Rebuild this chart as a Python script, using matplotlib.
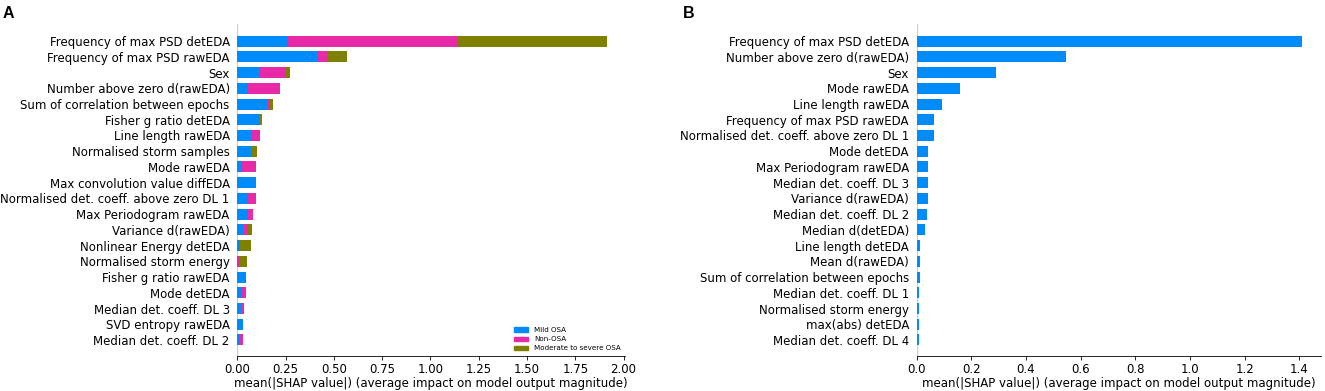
import numpy as np
import matplotlib
matplotlib.use("Agg")
import matplotlib.pyplot as plt
from matplotlib.patches import Patch

# panel A: multi-class mean |SHAP| (stacked per class)
features_a = [
    "Frequency of max PSD detEDA", "Frequency of max PSD rawEDA", "Sex",
    "Number above zero d(rawEDA)", "Sum of correlation between epochs",
    "Fisher g ratio detEDA", "Line length rawEDA", "Normalised storm samples",
    "Mode rawEDA", "Max convolution value diffEDA",
    "Normalised det. coeff. above zero DL 1", "Max Periodogram rawEDA",
    "Variance d(rawEDA)", "Nonlinear Energy detEDA", "Normalised storm energy",
    "Fisher g ratio rawEDA", "Mode detEDA", "Median det. coeff. DL 3",
    "SVD entropy rawEDA", "Median det. coeff. DL 2",
]
mild_osa = [0.265, 0.415, 0.116, 0.054, 0.161, 0.112, 0.075, 0.069, 0.026, 0.095,
            0.056, 0.054, 0.028, 0.015, 0.004, 0.045, 0.022, 0.017, 0.028, 0.009]
non_osa = [0.877, 0.056, 0.129, 0.167, 0.005, 0.002, 0.043, 0.0, 0.071, 0.0,
           0.039, 0.028, 0.024, 0.0, 0.007, 0.0, 0.025, 0.020, 0.0, 0.019]
mod_sev_osa = [0.770, 0.097, 0.026, 0.0, 0.021, 0.015, 0.0, 0.034, 0.0, 0.0,
               0.0, 0.0, 0.025, 0.056, 0.041, 0.0, 0.0, 0.0, 0.0, 0.0]
class_names = ["Mild OSA", "Non-OSA", "Moderate to severe OSA"]
class_colors = ["#008bfb", "#e82aa9", "#7f8000"]

# panel B: single output mean |SHAP|
features_b = [
    "Frequency of max PSD detEDA", "Number above zero d(rawEDA)", "Sex",
    "Mode rawEDA", "Line length rawEDA", "Frequency of max PSD rawEDA",
    "Normalised det. coeff. above zero DL 1", "Mode detEDA",
    "Max Periodogram rawEDA", "Median det. coeff. DL 3", "Variance d(rawEDA)",
    "Median det. coeff. DL 2", "Median d(detEDA)", "Line length detEDA",
    "Mean d(rawEDA)", "Sum of correlation between epochs",
    "Median det. coeff. DL 1", "Normalised storm energy", "max(abs) detEDA",
    "Median det. coeff. DL 4",
]
shap_b = [1.408, 0.548, 0.290, 0.160, 0.094, 0.063, 0.062, 0.043, 0.043, 0.042,
          0.041, 0.037, 0.029, 0.012, 0.012, 0.011, 0.010, 0.008, 0.008, 0.007]

fs = 8.5
xlabel = "mean(|SHAP value|) (average impact on model output magnitude)"

fig = plt.figure(figsize=(13.25, 3.91), dpi=100)
ax_a = fig.add_axes([0.1791, 0.0903, 0.2926, 0.848])
ax_b = fig.add_axes([0.6918, 0.0903, 0.305, 0.848])


def style(ax, labels):
    n = len(labels)
    ax.set_yticks(np.arange(n)[::-1])
    ax.set_yticklabels(labels, fontsize=fs)
    ax.set_ylim(-1, n + 0.08)
    ax.yaxis.set_ticks_position("none")
    ax.spines["right"].set_visible(False)
    ax.spines["top"].set_visible(False)
    ax.spines["left"].set_visible(False)
    ax.axvline(0, color="#cccccc", lw=1.0, zorder=-1)
    ax.tick_params(axis="x", labelsize=fs, length=3, width=0.6, pad=2)
    ax.tick_params(axis="y", pad=2)
    ax.spines["bottom"].set_linewidth(0.6)
    ax.set_xlabel(xlabel, fontsize=fs, labelpad=1)


# A
ypos = np.arange(len(features_a))[::-1]
left = np.zeros(len(features_a))
for vals, name, col in zip([mild_osa, non_osa, mod_sev_osa], class_names, class_colors):
    ax_a.barh(ypos, vals, 0.7, left=left, color=col, label=name)
    left = left + np.array(vals)
style(ax_a, features_a)
ax_a.set_xlim(0, left.max() * 1.05)
ticks_a = np.arange(0, 2.01, 0.25)
ax_a.set_xticks(ticks_a)
ax_a.set_xticklabels([f"{v:.2f}" for v in ticks_a])
handles = [Patch(color=c, label=l) for c, l in zip(class_colors, class_names)]
ax_a.legend(handles=handles, loc="lower right", frameon=False, fontsize=5.1,
            handlelength=2.05, handleheight=0.6, labelspacing=0.45,
            handletextpad=0.8, borderaxespad=0.2)

# B
ax_b.barh(np.arange(len(features_b))[::-1], shap_b, 0.7, color="#008bfb")
style(ax_b, features_b)
ax_b.set_xlim(0, max(shap_b) * 1.05)

fig.text(0.002, 0.985, "A", fontsize=11.5, fontweight="bold", family="Liberation Sans", va="top")
fig.text(0.5155, 0.985, "B", fontsize=11.5, fontweight="bold", family="Liberation Sans", va="top")

fig.savefig("out.png", dpi=100)
